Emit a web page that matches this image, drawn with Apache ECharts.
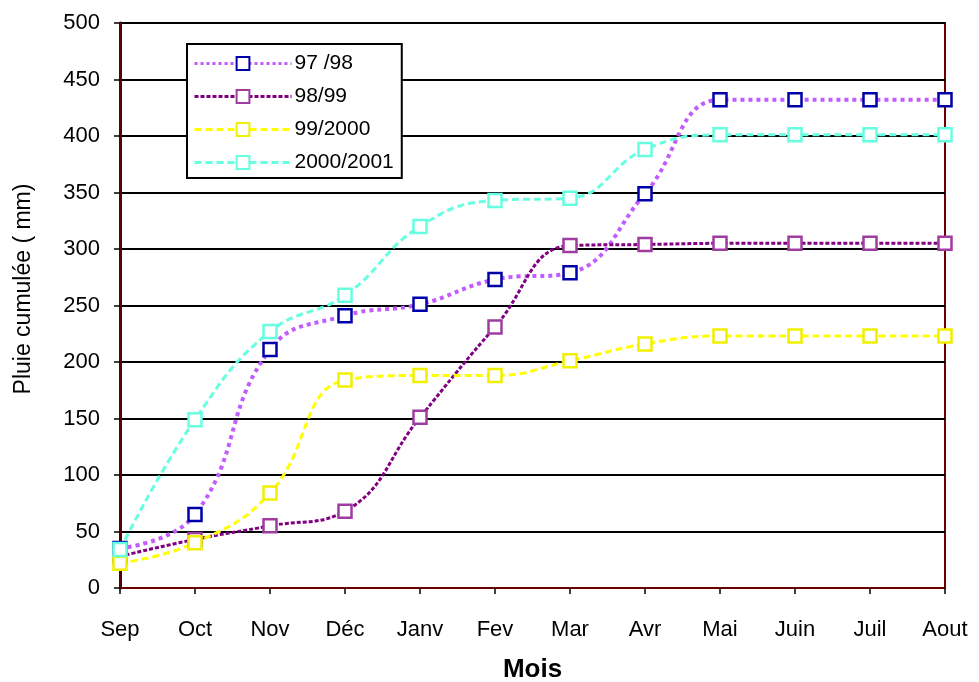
<!DOCTYPE html>
<html>
<head>
<meta charset="utf-8">
<script src="https://cdn.jsdelivr.net/npm/echarts@6/dist/echarts.min.js"></script>
<style>
  html, body { margin: 0; padding: 0; background: #fff; }
  #chart { width: 979px; height: 682px; }
</style>
</head>
<body>
<div id="chart"></div>
<script>
// Monthly cumulative rainfall (mm), hydrological year September → August
const months = ['Sep', 'Oct', 'Nov', 'Déc', 'Janv', 'Fev', 'Mar', 'Avr', 'Mai', 'Juin', 'Juil', 'Aout'];

const rain9798   = [35, 65, 211, 241, 251, 273, 279, 349, 432, 432, 432, 432];
const rain9899   = [28, 43, 55, 68, 151, 231, 303, 304, 305, 305, 305, 305];
const rain992000 = [22, 40, 84, 184, 188, 188, 201, 216, 223, 223, 223, 223];
const rain20002001 = [34, 149, 227, 259, 320, 343, 345, 388, 401, 401, 401, 401];

const yTicks = { min: 0, max: 500, interval: 50 };

const FONT = '"Liberation Sans", Arial, sans-serif';

function makeSeries(name, data, lineColor, lineType, lineWidth, markColor) {
  return {
    name: name,
    type: 'line',
    data: data,
    smooth: 0.45,
    symbol: 'rect',
    symbolSize: 13,
    showAllSymbol: true,
    lineStyle: { color: lineColor, width: lineWidth, type: lineType },
    itemStyle: { color: '#ffffff', borderColor: markColor, borderWidth: 2.5 },
    emphasis: { disabled: true }
  };
}

const chart = echarts.init(document.getElementById('chart'), null, { renderer: 'canvas' });

chart.setOption({
  animation: false,
  backgroundColor: '#ffffff',
  grid: {
    left: 120, right: 34, top: 23, bottom: 94,
    outerBoundsMode: 'none',
    containLabel: false,
    show: true, borderColor: '#6b0000', borderWidth: 2, backgroundColor: '#ffffff'
  },
  legend: {
    orient: 'vertical',
    left: 187, top: 44,
    padding: [9, 8, 5, 6],
    itemWidth: 97,
    itemHeight: 16,
    itemGap: 12,
    backgroundColor: '#ffffff',
    borderColor: '#000000',
    borderWidth: 2,
    lineStyle: { width: 3 },
    textStyle: { fontFamily: FONT, fontSize: 21, color: '#000', lineHeight: 16, padding: [0, 0, 0, -2] },
    data: ['97 /98', '98/99', '99/2000', '2000/2001']
  },
  xAxis: {
    type: 'category',
    data: months,
    boundaryGap: false,
    name: 'Mois',
    nameLocation: 'middle',
    nameGap: 69,
    nameTextStyle: { fontFamily: FONT, fontSize: 26, fontWeight: 'bold', color: '#000' },
    axisLine: { lineStyle: { color: '#6b0000', width: 2 } },
    axisTick: { show: true, alignWithLabel: true, length: 6, lineStyle: { color: '#000', width: 1.5 } },
    axisLabel: { fontFamily: FONT, fontSize: 22, color: '#000', margin: 31, interval: 0 },
    splitLine: { show: false }
  },
  yAxis: {
    type: 'value',
    min: yTicks.min,
    max: yTicks.max,
    interval: yTicks.interval,
    axisLine: { show: true, lineStyle: { color: '#5a0000', width: 3 } },
    axisTick: { show: true, length: 6, lineStyle: { color: '#000', width: 1.5 } },
    axisLabel: { fontFamily: FONT, fontSize: 22, color: '#000', margin: 20 },
    splitLine: { show: true, lineStyle: { color: '#000', width: 2 } }
  },
  graphic: [{
    type: 'text',
    x: 24, y: 289,
    rotation: Math.PI / 2,
    style: {
      text: 'Pluie cumulée ( mm)',
      fontFamily: FONT, fontSize: 23, fill: '#000',
      align: 'center', verticalAlign: 'middle'
    }
  }],
  series: [
    makeSeries('97 /98', rain9798, '#c25cff', 'dotted', 4, '#0000a8'),
    makeSeries('98/99', rain9899, '#800080', [4, 2], 3, '#a03ca0'),
    makeSeries('99/2000', rain992000, '#ffff00', [7, 4], 3, '#f0f000'),
    makeSeries('2000/2001', rain20002001, '#66ffe0', [7, 4], 3, '#66ffe0')
  ]
});
</script>
</body>
</html>
